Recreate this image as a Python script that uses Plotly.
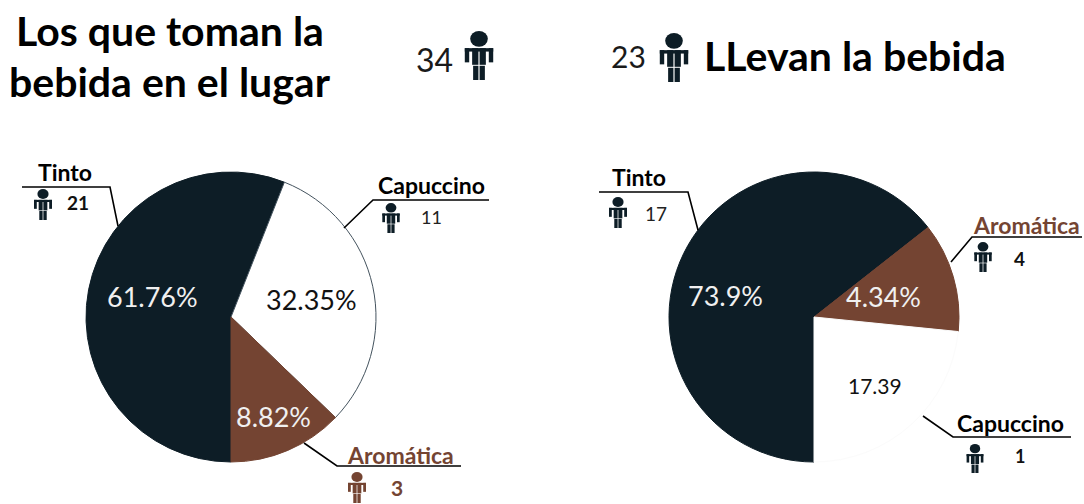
import plotly.graph_objects as go

W, H = 1084, 504
DARK = "#0d1d26"
BROWN = "#744432"
FONT = "Lato, 'Open Sans', sans-serif"

left_categories = ["Tinto", "Capuccino", "Aromática"]
right_categories = ["Tinto", "Aromática", "Capuccino"]
# Slice shares as drawn in the picture
left_shares = [56.0, 31.2, 12.8]
right_shares = [64.4, 12.2, 23.4]
left_labels = ["61.76%", "32.35%", "8.82%"]
right_labels = ["73.9%", "4.34%", "17.39"]
left_people = [21, 11, 3]
right_people = [17, 4, 1]
left_total = 34
right_total = 23
title_left = ["Los que toman la", "bebida en el lugar"]
title_right = "LLevan la bebida"


def px(x):
    return x / W


def py(y):
    return 1 - y / H


def pie(categories, values, colors, line_colors, cx, cy, r):
    return go.Pie(
        labels=categories, values=values, sort=False, direction="clockwise",
        rotation=180, textinfo="none", hoverinfo="label+percent", showlegend=False,
        domain=dict(x=[px(cx - r), px(cx + r)], y=[py(cy + r), py(cy - r)]),
        marker=dict(colors=colors, line=dict(color=line_colors, width=1)),
    )


fig = go.Figure([
    pie(left_categories, left_shares, [DARK, "#ffffff", BROWN], [DARK, "#44535e", BROWN], 231, 317, 145),
    pie(right_categories, right_shares, [DARK, BROWN, "#ffffff"], [DARK, BROWN, "#fbfbfb"], 814, 317, 145),
])

shapes = []
ann = []


def text(x, y, s, size, color="#000000", bold=False):
    ann.append(dict(x=px(x), y=py(y), xref="paper", yref="paper", text=f"<b>{s}</b>" if bold else s,
                    showarrow=False, xanchor="center", yanchor="middle",
                    font=dict(family=FONT, size=size, color=color)))


def path(points, color="#000000", width=1.6):
    d = "M" + " L".join(f"{px(x)},{py(y)}" for x, y in points)
    shapes.append(dict(type="path", path=d, xref="paper", yref="paper",
                       line=dict(color=color, width=width)))


def person(cx, top, bottom, color=DARK):
    h = bottom - top

    def rect(x0, x1, y0, y1):
        shapes.append(dict(type="rect", xref="paper", yref="paper", fillcolor=color, line_width=0,
                           x0=px(cx + x0 * h), x1=px(cx + x1 * h),
                           y0=py(top + y0 * h), y1=py(top + y1 * h)))

    shapes.append(dict(type="circle", xref="paper", yref="paper", fillcolor=color, line_width=0,
                       x0=px(cx - .18 * h), x1=px(cx + .18 * h),
                       y0=py(top + .32 * h), y1=py(top)))
    rect(-.29, .29, .35, .42)
    rect(-.29, -.20, .35, .64)
    rect(.20, .29, .35, .64)
    rect(-.14, -.012, .35, .69)
    rect(.012, .14, .35, .69)
    rect(-.12, -.012, .71, 1)
    rect(.012, .12, .71, 1)


# Titles
text(170, 30, title_left[0], 41, bold=True)
text(170, 82, title_left[1], 41, bold=True)
text(855, 55, title_right, 41, bold=True)
text(434, 59, str(left_total), 32, "#1a1a1a")
text(628, 56, str(right_total), 30, "#1a1a1a")
person(479, 31, 80)
person(674, 33, 82)

# Percent labels inside the slices
text(152, 296, left_labels[0], 27, "#f0f0f0")
text(311, 299, left_labels[1], 27, "#111111")
text(273, 416, left_labels[2], 27, "#f0f0f0")
text(725, 295, right_labels[0], 27, "#f0f0f0")
text(883, 296, right_labels[1], 27, "#f0f0f0")
text(875, 385, right_labels[2], 21, "#111111")

# Callouts, left pie
path([(22, 187), (110, 187), (118, 226)])
text(64.5, 172, left_categories[0], 23, bold=True)
person(43, 189, 220)
text(78, 202, str(left_people[0]), 19, "#111111", bold=True)

path([(489, 200), (373, 200), (344, 228)])
text(431, 185, left_categories[1], 23, bold=True)
person(391, 203, 233)
text(431, 217, str(left_people[1]), 18, "#222222")

path([(304, 443), (337, 466), (461, 466)])
text(400, 455, left_categories[2], 23, BROWN, bold=True)
person(357, 472, 503, BROWN)
text(397, 487, str(left_people[2]), 21, BROWN, bold=True)

# Callouts, right pie
path([(599, 192), (688, 192), (698, 230)])
text(639, 177, right_categories[0], 23, bold=True)
person(618, 197, 228)
text(656, 213, str(right_people[0]), 19, "#222222")

path([(1082, 237), (972, 237), (951, 262)])
text(1026, 225, right_categories[1], 23, BROWN, bold=True)
person(983, 242, 272)
text(1019, 258, str(right_people[1]), 19, "#111111", bold=True)

path([(923, 416), (953, 437), (1071, 437)])
text(1010, 423, right_categories[2], 23, bold=True)
person(975, 444, 473)
text(1020, 456, str(right_people[2]), 18, "#111111", bold=True)

fig.update_layout(width=W, height=H, margin=dict(l=0, r=0, t=0, b=0),
                  paper_bgcolor="#ffffff", plot_bgcolor="#ffffff",
                  shapes=shapes, annotations=ann)
fig.write_html("out.html", config=dict(displayModeBar=False),
               post_script="document.body.style.margin='0';")
